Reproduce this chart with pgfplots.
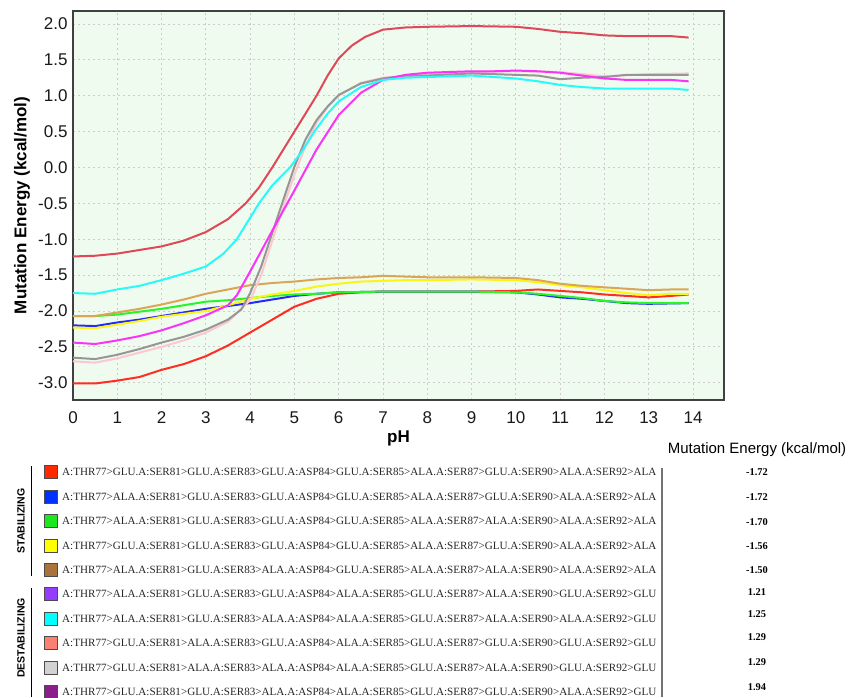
\documentclass[border=0pt]{standalone}
\usepackage{fontspec}
\setmainfont{Liberation Serif}
\setsansfont{Liberation Sans}
\usepackage{pgfplots}
\pgfplotsset{compat=1.18}
\definecolor{bggreen}{RGB}{239,251,238}
\definecolor{cCrimson}{RGB}{222,72,88}
\definecolor{cCyan}{RGB}{40,250,250}
\definecolor{cMagenta}{RGB}{250,50,250}
\definecolor{cGray}{RGB}{150,150,150}
\definecolor{cPink}{RGB}{250,200,205}
\definecolor{cTan}{RGB}{218,165,85}
\definecolor{cYellow}{RGB}{250,245,20}
\definecolor{cGreen}{RGB}{40,245,40}
\definecolor{cBlue}{RGB}{40,40,250}
\definecolor{cRed}{RGB}{255,45,35}
\definecolor{lRed}{RGB}{255,40,0}
\definecolor{lBlue}{RGB}{0,50,255}
\definecolor{lGreen}{RGB}{30,230,30}
\definecolor{lYellow}{RGB}{255,255,0}
\definecolor{lBrown}{RGB}{170,115,60}
\definecolor{lViolet}{RGB}{150,60,255}
\definecolor{lCyan}{RGB}{0,255,255}
\definecolor{lSalmon}{RGB}{250,128,114}
\definecolor{lGray}{RGB}{210,210,210}
\definecolor{lPurple}{RGB}{140,30,140}
\newcommand{\legrow}[5]{%
  \draw[draw=black!70, line width=0.8pt, fill=#2] (44,#1-6.5) rectangle (57,#1+6.5);
  \node[anchor=west, inner sep=0pt, text=black!85, font=\fontsize{11.1}{12}\selectfont] at (62,#1) {#3};
  \node[anchor=center, inner sep=0pt, font=\bfseries\fontsize{10.4}{12}\selectfont] at (757,#4) {#5};
}
\begin{document}
\begin{tikzpicture}
\useasboundingbox (0,0) rectangle (862pt,697pt);
\begin{axis}[
  at={(73pt,297pt)}, anchor=south west,
  scale only axis, width=651pt, height=389pt,
  xmin=0, xmax=14.7, ymin=-3.24, ymax=2.18,
  xtick={0,1,2,3,4,5,6,7,8,9,10,11,12,13,14},
  ytick={-3,-2.5,-2,-1.5,-1,-0.5,0,0.5,1,1.5,2},
  /pgf/number format/assume math mode=true,
  yticklabel style={/pgf/number format/fixed, /pgf/number format/fixed zerofill, /pgf/number format/precision=1, xshift=-2pt},
  xticklabel style={yshift=-8pt},
  ticklabel style={font=\sffamily\fontsize{17}{20}\selectfont, text=black!90},
  major tick length=0pt,
  grid=major,
  major grid style={draw=gray!40, dash pattern=on 2pt off 3pt, line width=0.8pt},
  axis background/.style={fill=bggreen},
  axis line style={draw=black!75, line width=1.2pt},
  xlabel={pH},
  ylabel={Mutation Energy (kcal/mol)},
  xlabel style={at={(axis description cs:0.5,-0.099)}, anchor=center, font=\sffamily\bfseries\fontsize{17}{20}\selectfont},
  ylabel style={at={(axis description cs:-0.0783,0.5)}, anchor=center, font=\sffamily\bfseries\fontsize{17}{20}\selectfont},
  every axis plot/.append style={line width=2pt, line join=round, mark=none},
]
% red (stabilizing, lowest)
\addplot[cRed] coordinates {(0,-3.01)(0.5,-3.01)(1,-2.97)(1.5,-2.92)(2,-2.82)(2.5,-2.74)(3,-2.63)(3.5,-2.48)(4,-2.30)(4.5,-2.12)(5,-1.94)(5.5,-1.83)(6,-1.76)(6.5,-1.74)(7,-1.73)(8,-1.73)(9,-1.73)(10,-1.72)(10.5,-1.70)(11,-1.72)(11.5,-1.74)(12,-1.77)(12.5,-1.79)(13,-1.81)(13.5,-1.79)(13.9,-1.77)};
% blue
\addplot[cBlue] coordinates {(0,-2.20)(0.5,-2.21)(1,-2.16)(1.5,-2.12)(2,-2.07)(2.5,-2.02)(3,-1.97)(3.5,-1.93)(4,-1.89)(4.5,-1.84)(5,-1.79)(5.5,-1.76)(6,-1.74)(7,-1.73)(8,-1.73)(9,-1.73)(10,-1.74)(10.5,-1.77)(11,-1.81)(11.5,-1.83)(12,-1.86)(12.5,-1.89)(13,-1.90)(13.9,-1.89)};
% green
\addplot[cGreen] coordinates {(0,-2.07)(0.5,-2.07)(1,-2.05)(1.5,-2.01)(2,-1.97)(2.5,-1.92)(3,-1.87)(3.5,-1.85)(4,-1.82)(4.5,-1.79)(5,-1.77)(5.5,-1.76)(6,-1.74)(7,-1.73)(8,-1.73)(9,-1.73)(10,-1.74)(10.5,-1.76)(11,-1.79)(11.5,-1.82)(12,-1.86)(12.5,-1.88)(13,-1.89)(13.9,-1.89)};
% yellow
\addplot[cYellow] coordinates {(0,-2.23)(0.5,-2.24)(1,-2.19)(1.5,-2.14)(2,-2.08)(2.5,-2.04)(3,-2.00)(3.5,-1.92)(4,-1.83)(4.5,-1.77)(5,-1.72)(5.5,-1.66)(6,-1.62)(6.5,-1.59)(7,-1.58)(7.5,-1.57)(8,-1.57)(9,-1.56)(10,-1.57)(10.5,-1.60)(11,-1.64)(11.5,-1.67)(12,-1.71)(12.5,-1.75)(13,-1.78)(13.5,-1.76)(13.9,-1.76)};
% tan
\addplot[cTan] coordinates {(0,-2.07)(0.5,-2.07)(1,-2.02)(1.5,-1.97)(2,-1.91)(2.5,-1.84)(3,-1.76)(3.5,-1.70)(4,-1.64)(4.5,-1.61)(5,-1.59)(5.5,-1.56)(6,-1.54)(6.5,-1.53)(7,-1.51)(7.5,-1.52)(8,-1.53)(9,-1.53)(10,-1.54)(10.5,-1.57)(11,-1.62)(11.5,-1.65)(12,-1.67)(12.5,-1.69)(13,-1.71)(13.5,-1.70)(13.9,-1.70)};
% pink
\addplot[cPink] coordinates {(0,-2.70)(0.5,-2.72)(1,-2.66)(1.5,-2.58)(2,-2.50)(2.5,-2.41)(3,-2.30)(3.5,-2.15)(4,-1.85)(4.25,-1.50)(4.5,-1.02)(4.75,-0.55)(5,-0.10)(5.25,0.30)(5.5,0.62)(5.75,0.84)(6,1.00)(6.5,1.18)(7,1.25)(8,1.30)(9,1.33)(10,1.34)(11,1.33)(11.5,1.30)(12,1.27)(13,1.30)(13.9,1.31)};
% gray
\addplot[cGray] coordinates {(0,-2.65)(0.5,-2.67)(1,-2.61)(1.5,-2.53)(2,-2.44)(2.5,-2.36)(3,-2.26)(3.5,-2.12)(3.8,-1.98)(4,-1.75)(4.25,-1.38)(4.5,-0.91)(4.75,-0.45)(5,0.01)(5.25,0.39)(5.5,0.66)(5.75,0.85)(6,1.01)(6.5,1.17)(7,1.24)(7.5,1.28)(8,1.28)(9,1.31)(10,1.29)(10.5,1.28)(11,1.23)(11.5,1.25)(12,1.26)(12.5,1.29)(13,1.29)(13.9,1.29)};
% magenta
\addplot[cMagenta] coordinates {(0,-2.44)(0.5,-2.46)(1,-2.41)(1.5,-2.35)(2,-2.27)(2.5,-2.17)(3,-2.06)(3.5,-1.92)(3.7,-1.78)(4,-1.45)(4.5,-0.88)(5,-0.32)(5.5,0.25)(6,0.73)(6.5,1.04)(7,1.22)(7.5,1.29)(8,1.32)(8.5,1.33)(9,1.34)(9.5,1.34)(10,1.35)(10.5,1.34)(11,1.32)(11.5,1.28)(12,1.24)(12.5,1.22)(13,1.22)(13.5,1.22)(13.9,1.20)};
% cyan
\addplot[cCyan] coordinates {(0,-1.75)(0.5,-1.76)(1,-1.70)(1.5,-1.65)(2,-1.57)(2.5,-1.48)(3,-1.38)(3.4,-1.20)(3.7,-1.00)(4,-0.70)(4.2,-0.50)(4.5,-0.25)(4.9,0.00)(5.2,0.25)(5.45,0.50)(5.75,0.75)(6,0.92)(6.5,1.12)(7,1.22)(7.5,1.25)(8,1.26)(9,1.28)(10,1.24)(10.5,1.20)(11,1.15)(11.5,1.12)(12,1.10)(12.5,1.10)(13,1.10)(13.5,1.10)(13.9,1.08)};
% crimson
\addplot[cCrimson] coordinates {(0,-1.24)(0.5,-1.23)(1,-1.20)(1.5,-1.15)(2,-1.10)(2.5,-1.02)(3,-0.90)(3.5,-0.72)(3.9,-0.50)(4.2,-0.28)(4.5,0.00)(4.75,0.25)(5,0.50)(5.25,0.75)(5.5,1.00)(5.75,1.28)(6,1.52)(6.3,1.70)(6.6,1.82)(7,1.92)(7.5,1.95)(8,1.96)(9,1.97)(10,1.96)(10.5,1.93)(11,1.89)(11.5,1.87)(12,1.84)(12.5,1.83)(13,1.83)(13.5,1.83)(13.9,1.81)};
\end{axis}
\begin{scope}[yshift=697pt, x=1pt, y=-1pt]
  \node[anchor=center, inner sep=0pt, font=\sffamily\fontsize{15}{18}\selectfont] at (757,450) {Mutation Energy (kcal/mol)};
  \draw[black, line width=1pt] (31,466) -- (31,576);
  \draw[black, line width=1pt] (31,588) -- (31,697);
  \node[rotate=90, anchor=center, inner sep=0pt, font=\sffamily\bfseries\fontsize{10.5}{12}\selectfont] at (21,521) {STABILIZING};
  \node[rotate=90, anchor=center, inner sep=0pt, font=\sffamily\bfseries\fontsize{10.5}{12}\selectfont] at (21,638) {DESTABILIZING};
  \draw[black!55, line width=2pt] (662,468) -- (662,697);
  \legrow{472}{lRed}{A:THR77>GLU.A:SER81>GLU.A:SER83>GLU.A:ASP84>GLU.A:SER85>ALA.A:SER87>GLU.A:SER90>ALA.A:SER92>ALA}{472}{-1.72}
  \legrow{497}{lBlue}{A:THR77>ALA.A:SER81>GLU.A:SER83>GLU.A:ASP84>GLU.A:SER85>ALA.A:SER87>GLU.A:SER90>ALA.A:SER92>ALA}{497}{-1.72}
  \legrow{521}{lGreen}{A:THR77>ALA.A:SER81>GLU.A:SER83>GLU.A:ASP84>GLU.A:SER85>ALA.A:SER87>ALA.A:SER90>ALA.A:SER92>ALA}{522}{-1.70}
  \legrow{546}{lYellow}{A:THR77>GLU.A:SER81>GLU.A:SER83>GLU.A:ASP84>GLU.A:SER85>ALA.A:SER87>GLU.A:SER90>ALA.A:SER92>ALA}{546}{-1.56}
  \legrow{570}{lBrown}{A:THR77>ALA.A:SER81>GLU.A:SER83>ALA.A:ASP84>GLU.A:SER85>ALA.A:SER87>ALA.A:SER90>ALA.A:SER92>ALA}{570}{-1.50}
  \legrow{594}{lViolet}{A:THR77>ALA.A:SER81>GLU.A:SER83>GLU.A:ASP84>ALA.A:SER85>GLU.A:SER87>ALA.A:SER90>GLU.A:SER92>GLU}{592}{1.21}
  \legrow{619}{lCyan}{A:THR77>ALA.A:SER81>GLU.A:SER83>ALA.A:ASP84>ALA.A:SER85>GLU.A:SER87>ALA.A:SER90>ALA.A:SER92>GLU}{614}{1.25}
  \legrow{643}{lSalmon}{A:THR77>GLU.A:SER81>ALA.A:SER83>GLU.A:ASP84>ALA.A:SER85>GLU.A:SER87>GLU.A:SER90>GLU.A:SER92>GLU}{637}{1.29}
  \legrow{668}{lGray}{A:THR77>GLU.A:SER81>ALA.A:SER83>ALA.A:ASP84>ALA.A:SER85>GLU.A:SER87>ALA.A:SER90>GLU.A:SER92>GLU}{662}{1.29}
  \legrow{692}{lPurple}{A:THR77>GLU.A:SER81>GLU.A:SER83>ALA.A:ASP84>ALA.A:SER85>GLU.A:SER87>GLU.A:SER90>ALA.A:SER92>GLU}{687}{1.94}
\end{scope}
\end{tikzpicture}
\end{document}
